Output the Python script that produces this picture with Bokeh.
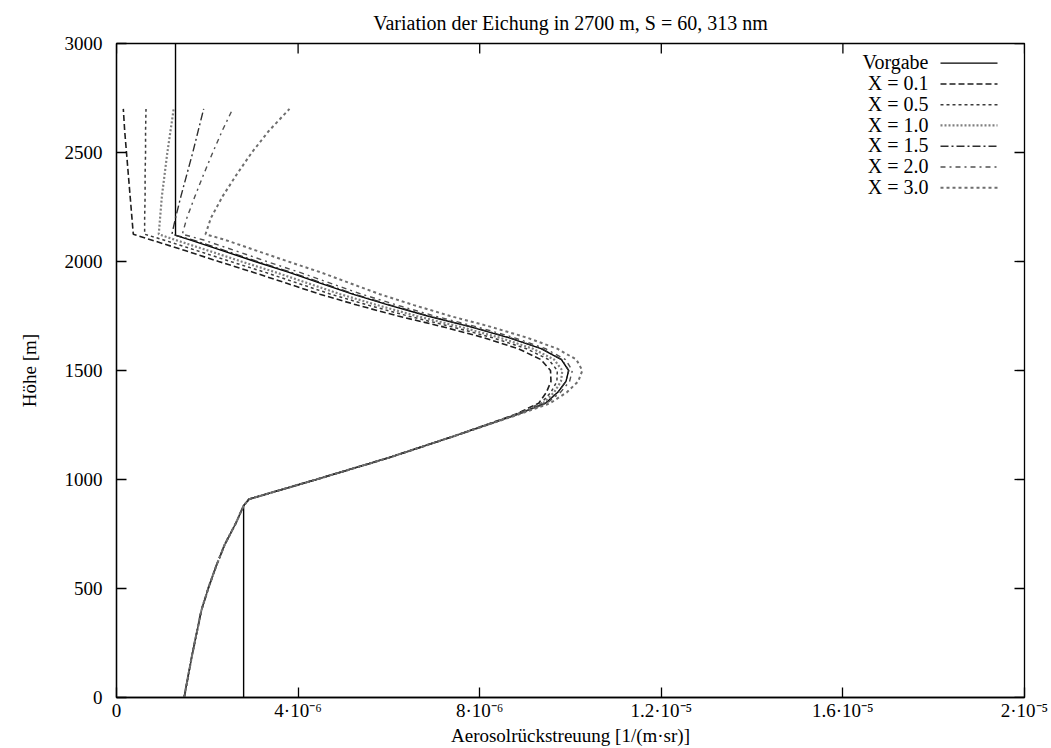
import numpy as np
from bokeh.plotting import figure
from bokeh.models import Range1d, Label
from bokeh.embed import file_html
from bokeh.resources import INLINE

FONT = "Liberation Serif"

# ---- data (backscatter in units of 1e-6 1/(m sr), height in m) ----
# Vorgabe (prescribed profile)
H_VORGABE = [0, 880, 910, 1000, 1100, 1200, 1300, 1350, 1400, 1450, 1500, 1550, 1600,
             1650, 1700, 1750, 1800, 1850, 1900, 1950, 2000, 2050, 2100, 2120, 3000]
B_VORGABE = [2.80, 2.80, 2.92, 4.40, 6.00, 7.45, 8.85, 9.45, 9.72, 9.90, 9.96, 9.80, 9.35,
             8.65, 7.80, 6.85, 6.00, 5.20, 4.50, 3.80, 3.05, 2.33, 1.60, 1.30, 1.30]

# common lower part of all retrievals
H_LOW = [0, 100, 200, 300, 400, 500, 600, 700, 800, 880, 910, 1000, 1100, 1200]
B_LOW = [1.49, 1.58, 1.67, 1.77, 1.87, 2.02, 2.19, 2.38, 2.63, 2.80, 2.92, 4.40, 6.00, 7.45]

# upper part of retrievals (calibrated at 2700 m)
H_UP = [1300, 1350, 1400, 1450, 1500, 1550, 1600, 1650, 1700, 1750, 1800, 1850, 1900,
        1950, 2000, 2050, 2100, 2125, 2200, 2300, 2400, 2500, 2600, 2700]
B_X01 = [8.80, 9.30, 9.47, 9.57, 9.56, 9.35, 8.85, 8.10, 7.20, 6.20, 5.30, 4.48, 3.75,
         3.02, 2.25, 1.51, 0.75, 0.37, 0.34, 0.30, 0.26, 0.22, 0.18, 0.15]
B_X05 = [8.82, 9.35, 9.57, 9.70, 9.71, 9.52, 9.03, 8.29, 7.40, 6.42, 5.54, 4.72, 4.00,
         3.28, 2.51, 1.77, 1.02, 0.62, 0.62, 0.63, 0.63, 0.64, 0.64, 0.65]
B_X10 = [8.84, 9.40, 9.64, 9.79, 9.82, 9.64, 9.17, 8.45, 7.58, 6.61, 5.74, 4.93, 4.22,
         3.51, 2.75, 2.02, 1.28, 0.93, 0.96, 1.00, 1.06, 1.12, 1.19, 1.26]
B_X15 = [8.85, 9.45, 9.72, 9.90, 9.96, 9.81, 9.37, 8.67, 7.83, 6.88, 6.04, 5.24, 4.55,
         3.85, 3.10, 2.39, 1.66, 1.22, 1.30, 1.42, 1.55, 1.68, 1.80, 1.92]
B_X20 = [8.86, 9.48, 9.78, 9.98, 10.04, 9.89, 9.45, 8.77, 7.94, 7.01, 6.18, 5.40, 4.72,
         4.04, 3.31, 2.61, 1.90, 1.45, 1.55, 1.73, 1.92, 2.12, 2.33, 2.56]
B_X30 = [8.88, 9.55, 9.92, 10.17, 10.26, 10.13, 9.71, 9.05, 8.25, 7.35, 6.55, 5.80, 5.15,
         4.50, 3.78, 3.08, 2.38, 1.96, 2.08, 2.34, 2.65, 2.98, 3.36, 3.81]

SERIES_NAMES = ["X = 0.1", "X = 0.5", "X = 1.0", "X = 1.5", "X = 2.0", "X = 3.0"]
SERIES_UP = [B_X01, B_X05, B_X10, B_X15, B_X20, B_X30]

X_TICKS = [0, 4, 8, 12, 16, 20]
X_TICK_LABELS = ["0", "4·10⁻⁶", "8·10⁻⁶", "1.2·10⁻⁵", "1.6·10⁻⁵", "2·10⁻⁵"]
Y_TICKS = [0, 500, 1000, 1500, 2000, 2500, 3000]
X_MAX, Y_MAX = 20, 3000
TITLE = "Variation der Eichung in 2700 m, S = 60, 313 nm"

# ---- styles / layout ----
VORGABE_STYLE = dict(color="black", line_width=1.4)
STYLES = [
    dict(color="#1e1e1e", line_width=1.6, line_dash="6 3"),
    dict(color="#3c3c3c", line_width=1.5, line_dash="3 3"),
    dict(color="#808080", line_width=2.2, line_dash="2 2"),
    dict(color="#2e2e2e", line_width=1.4, line_dash="8 3 2 3"),
    dict(color="#505050", line_width=1.4, line_dash="5 4 2 4"),
    dict(color="#6e6e6e", line_width=2.0, line_dash="3 3"),
]
W, H = 1051, 748
LEFT, RIGHT, TOP, BOTTOM = 116, 27, 42, 51
FW, FH = W - LEFT - RIGHT, H - TOP - BOTTOM

p = figure(width=W, height=H,
           x_range=Range1d(0, X_MAX), y_range=Range1d(0, Y_MAX),
           output_backend="svg", toolbar_location=None,
           min_border_left=LEFT, min_border_right=RIGHT,
           min_border_top=TOP, min_border_bottom=BOTTOM)

p.title.text = TITLE
p.title.align = "center"
p.title.text_font = FONT
p.title.text_font_size = "20px"
p.title.text_font_style = "normal"
p.title.text_color = "black"
p.title.standoff = 19

p.xgrid.visible = False
p.ygrid.visible = False
p.outline_line_color = "black"
p.outline_line_width = 1.3
p.background_fill_color = "white"
p.border_fill_color = "white"

p.xaxis.ticker = X_TICKS
p.xaxis.major_label_overrides = {t: l for t, l in zip(X_TICKS, X_TICK_LABELS)}
p.xaxis.axis_label = "Aerosolrückstreuung [1/(m·sr)]"
p.yaxis.ticker = Y_TICKS
p.yaxis.axis_label = "Höhe [m]"

for ax in (p.xaxis[0], p.yaxis[0]):
    ax.major_tick_in = 10
    ax.major_tick_out = 0
    ax.minor_tick_in = 0
    ax.minor_tick_out = 0
    ax.axis_line_color = "black"
    ax.axis_line_width = 1.3
    ax.major_tick_line_color = "black"
    ax.major_tick_line_width = 1.3
    ax.major_label_text_font = FONT
    ax.major_label_text_font_size = "19px"
    ax.major_label_text_color = "black"
    ax.axis_label_text_font = FONT
    ax.axis_label_text_font_size = "19px"
    ax.axis_label_text_font_style = "normal"
    ax.axis_label_text_color = "black"

p.xaxis.major_label_standoff = 2
p.xaxis.axis_label_standoff = 1
p.yaxis.major_label_standoff = 14
p.yaxis.axis_label_standoff = 22

# mirrored tick marks on top and right edges (half of each dash is clipped by the frame)
p.scatter(x=X_TICKS, y=[Y_MAX] * len(X_TICKS), marker="dash", angle=np.pi / 2,
          size=20, line_color="black", line_width=1.3)
p.scatter(x=[X_MAX] * len(Y_TICKS), y=Y_TICKS, marker="dash",
          size=20, line_color="black", line_width=1.3)

# data curves
p.line(B_VORGABE, H_VORGABE, **VORGABE_STYLE)
for up, st in zip(SERIES_UP, STYLES):
    p.line(list(B_LOW) + list(up), list(H_LOW) + list(H_UP), **st)

# gnuplot-style key: label right-aligned, line sample to its right
KEY_TEXT_X = 928 - LEFT      # px from frame left
KEY_LINE_X0, KEY_LINE_X1 = 940, 997   # page px
KEY_Y0, KEY_DY = 61.7, 20.8  # page px of first row, row step
for i, (name, st) in enumerate(zip(["Vorgabe"] + SERIES_NAMES, [VORGABE_STYLE] + STYLES)):
    ypx = KEY_Y0 + i * KEY_DY
    ydat = (H - BOTTOM - ypx) / FH * Y_MAX
    x0 = (KEY_LINE_X0 - LEFT) / FW * X_MAX
    x1 = (KEY_LINE_X1 - LEFT) / FW * X_MAX
    p.line([x0, x1], [ydat, ydat], **st)
    p.add_layout(Label(x=KEY_TEXT_X, y=H - BOTTOM - ypx, x_units="screen", y_units="screen",
                       text=name, text_align="right", text_baseline="middle",
                       text_font=FONT, text_font_size="20px", text_color="black"))

open("out.html", "w").write(file_html(p, INLINE))
